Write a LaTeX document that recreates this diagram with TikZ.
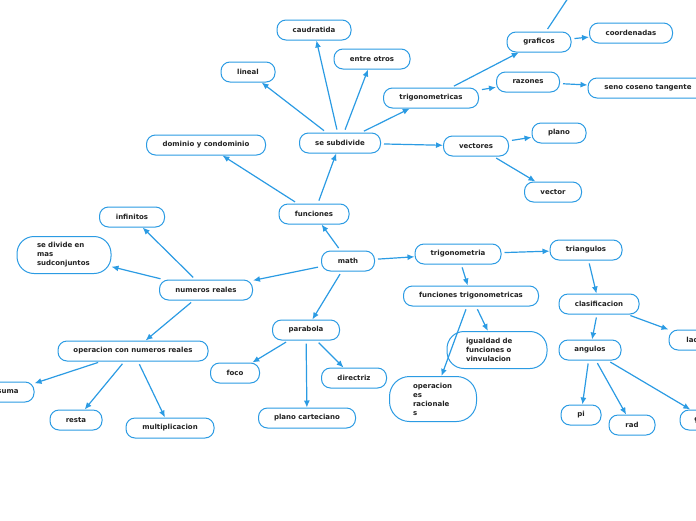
\documentclass[tikz,border=0pt]{standalone}
\usepackage{fontspec}
\setmainfont{DejaVu Sans}
\usetikzlibrary{arrows.meta}
\definecolor{bl}{HTML}{2B9BE3}
\definecolor{tx}{HTML}{222222}
\tikzset{
 nd/.style={draw=bl, line width=1pt, rounded corners=9pt, inner sep=0pt, minimum height=20pt, font=\fontsize{7}{9}\selectfont\bfseries, text=tx, fill=white},
 ml/.style={nd, rounded corners=17pt, align=left},
 ar/.style={draw=bl, line width=1.2pt, -{Latex[length=7pt,width=6pt]}, shorten <=3pt},
 ln/.style={draw=bl, line width=1.2pt, shorten <=3pt},
}
\begin{document}
\begin{tikzpicture}[x=1pt,y=-1pt]
\useasboundingbox (0,0) rectangle (696,520);
\clip (0,0) rectangle (696,520);
% nodes
\node[nd, minimum width=74pt] (caud) at (314,30) {caudratida};
\node[nd, minimum width=76pt] (entre) at (372,59) {entre otros};
\node[nd, minimum width=54pt] (lineal) at (248,72) {lineal};
\node[nd, minimum width=64pt] (graf) at (539,42) {graficos};
\node[nd, minimum width=83pt] (coord) at (631,33) {coordenadas};
\node[nd, minimum width=63pt] (raz) at (528,82) {razones};
\node[nd, minimum width=120pt] (seno) at (648,88) {seno coseno tangente};
\node[nd, minimum width=95pt] (trigs) at (431,98) {trigonometricas};
\node[nd, minimum width=119pt] (dom) at (206,145) {dominio y condominio};
\node[nd, minimum width=81pt] (sub) at (340,143) {se subdivide};
\node[nd, minimum width=65pt] (vecs) at (476,146) {vectores};
\node[nd, minimum width=54pt] (plano) at (559,133) {plano};
\node[nd, minimum width=57pt] (vec) at (553,192) {vector};
\node[nd, minimum width=70pt] (func) at (314,214) {funciones};
\node[nd, minimum width=65pt] (inf) at (132,217) {infinitos};
\node[ml, minimum width=94pt, minimum height=37pt, text width=54pt] (div) at (64,255) {se divide en\\mas\\sudconjuntos};
\node[nd, minimum width=53pt] (math) at (348,261) {math};
\node[nd, minimum width=86pt] (trig) at (458,254) {trigonometria};
\node[nd, minimum width=72pt] (tri) at (586,250) {triangulos};
\node[nd, minimum width=93pt] (num) at (206,290) {numeros reales};
\node[nd, minimum width=135pt] (ftrig) at (471,296) {funciones trigonometricas};
\node[nd, minimum width=80pt] (clas) at (599,304) {clasificacion};
\node[nd, minimum width=67pt] (par) at (306,330) {parabola};
\node[ml, minimum width=100pt, minimum height=37pt, text width=62pt] (igu) at (497,350) {igualdad de\\funciones o\\vinvulacion};
\node[nd, minimum width=56pt] (lados) at (697,340) {lados};
\node[nd, minimum width=150pt] (oper) at (133,351) {operacion con numeros reales};
\node[nd, minimum width=62pt] (ang) at (590,350) {angulos};
\node[nd, minimum width=49pt] (foco) at (235,373) {foco};
\node[nd, minimum width=65pt] (dir) at (354,378) {directriz};
\node[ml, rounded corners=20pt, minimum width=87pt, minimum height=45pt, text width=40pt] (opr) at (433,399) {operacion\\es\\racionale\\s};
\node[nd, minimum width=52pt] (suma) at (8,392) {suma};
\node[nd, minimum width=52pt] (resta) at (76,420) {resta};
\node[nd, minimum width=88pt] (mult) at (170,428) {multiplicacion};
\node[nd, minimum width=97pt] (pc) at (307,418) {plano carteciano};
\node[nd, minimum width=40pt] (pi) at (581,415) {pi};
\node[nd, minimum width=46pt] (rad) at (632,425) {rad};
\node[nd, minimum width=56pt] (grad) at (708,420) {grados};
\coordinate (up) at (580,-20);
% edges
\draw[ar] (sub) -- (caud);
\draw[ar] (sub) -- (entre);
\draw[ar] (sub) -- (lineal);
\draw[ar] (sub) -- (trigs);
\draw[ar] (sub) -- (vecs);
\draw[ar] (trigs) -- (graf);
\draw[ar] (trigs) -- (raz);
\draw[ln] (graf) -- (up);
\draw[ar] (graf) -- (coord);
\draw[ar] (raz) -- (seno);
\draw[ar] (vecs) -- (plano);
\draw[ar] (vecs) -- (vec);
\draw[ar] (func) -- (sub);
\draw[ar] (func) -- (dom);
\draw[ar] (math) -- (func);
\draw[ar] (math) -- (trig);
\draw[ar] (math) -- (num);
\draw[ar] (math) -- (par);
\draw[ar] (num) -- (inf);
\draw[ar] (num) -- (div);
\draw[ar] (num) -- (oper);
\draw[ar] (oper) -- (suma);
\draw[ar] (oper) -- (resta);
\draw[ar] (oper) -- (mult);
\draw[ar] (par) -- (foco);
\draw[ar] (par) -- (pc);
\draw[ar] (par) -- (dir);
\draw[ar] (trig) -- (tri);
\draw[ar] (trig) -- (ftrig);
\draw[ar] (ftrig) -- (igu);
\draw[ar] (ftrig.south) ++(-4,0) -- (opr);
\draw[ar] (tri) -- (clas);
\draw[ar] (clas) -- (lados);
\draw[ar] (clas) -- (ang);
\draw[ar] (ang) -- (pi);
\draw[ar] (ang) -- (rad);
\draw[ar] (ang) -- (grad);
\end{tikzpicture}
\end{document}
